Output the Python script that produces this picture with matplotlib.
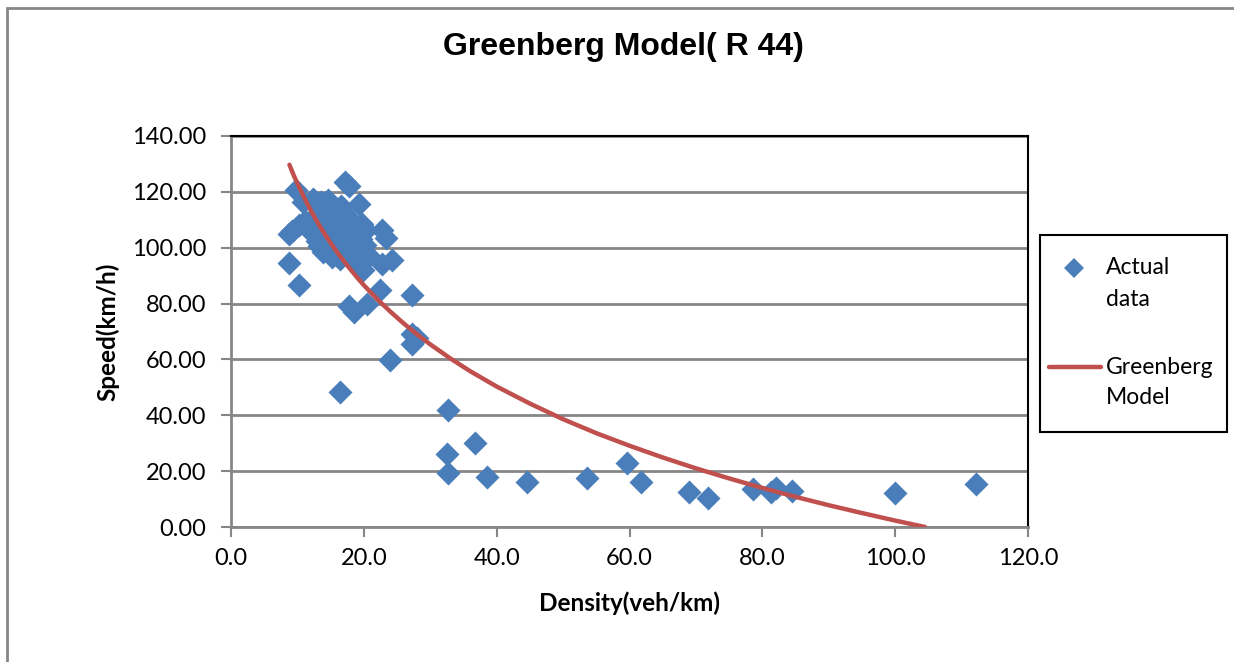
import numpy as np
import matplotlib.pyplot as plt
from matplotlib.patches import Rectangle
from matplotlib.lines import Line2D

# observed traffic data, section R 44
density = [8.7, 9.2, 8.7, 10.2, 9.8, 10.8, 12.3, 13.5, 14.6, 15.5, 16.6, 13.0, 14.0, 15.0,
           16.0, 17.0, 17.8, 11.2, 10.3, 11.8, 12.8, 13.8, 15.0, 16.0, 17.0, 18.0, 19.0,
           19.7, 20.3, 14.5, 15.5, 16.5, 17.5, 18.5, 19.5, 20.2, 13.2, 13.8, 12.9, 15.2,
           16.4, 17.6, 18.8, 19.3, 20.4, 20.8, 19.8, 18.6, 17.2, 17.8, 19.3, 22.8, 23.3,
           22.7, 24.2, 22.4, 20.5, 17.8, 18.5, 27.3, 27.3, 28.0, 27.2, 24.0, 16.4, 32.6,
           32.5, 32.7, 36.7, 38.5, 44.5, 53.6, 59.6, 61.7, 69.0, 71.8, 78.6, 81.3, 82.0,
           84.5, 100.0, 112.2]
speed = [105.0, 106.0, 94.5, 86.5, 120.5, 116.5, 117.5, 116.5, 117.0, 114.5, 115.0, 112.0,
         110.0, 109.5, 111.0, 112.5, 110.5, 109.5, 108.0, 106.5, 105.0, 104.0, 105.5, 104.5,
         106.0, 104.0, 106.0, 108.5, 106.5, 101.0, 100.0, 102.0, 100.5, 101.5, 103.0, 101.0,
         100.5, 98.5, 102.5, 96.5, 95.8, 98.0, 97.0, 95.0, 98.2, 97.2, 92.0, 94.5, 123.5,
         122.0, 115.5, 106.5, 103.5, 94.0, 95.7, 85.0, 80.0, 79.0, 77.0, 83.0, 69.0, 67.5,
         65.5, 59.7, 48.5, 42.0, 26.3, 19.5, 30.0, 17.8, 16.2, 17.7, 23.0, 16.2, 12.5, 10.5,
         13.5, 12.5, 14.0, 13.0, 12.2, 15.3]

# fitted Greenberg curve
model_density = [8.8, 9, 9.5, 10, 11, 12, 13, 14, 15, 16, 17, 18, 19, 20, 22, 24, 26, 28,
                 30, 33, 36, 40, 45, 50, 55, 60, 65, 70, 75, 80, 85, 90, 95, 100, 104.5]
model_speed = [129.7, 128.5, 125.6, 123.0, 118.0, 113.4, 109.2, 105.3, 101.7, 98.3, 95.2,
               92.2, 89.3, 86.6, 81.6, 77.1, 72.9, 69.0, 65.4, 60.4, 55.8, 50.3, 44.2, 38.6,
               33.6, 29.1, 24.9, 21.0, 17.4, 14.0, 10.8, 7.8, 5.0, 2.3, 0.0]

blue = '#4a7ebb'
red = '#c0504d'
grey = '#868686'

fig = plt.figure(figsize=(12.34, 6.62), dpi=100)
ax = fig.add_axes([231/1234, 1-527/662, 797/1234, 391/662])

ax.scatter(density, speed, marker='D', s=150, color=blue, linewidths=0, zorder=3)
ax.plot(model_density, model_speed, color=red, lw=3.2, solid_capstyle='round', zorder=4)

ax.set_xlim(0, 120)
ax.set_ylim(0, 140)
ax.set_xticks(np.arange(0, 121, 20))
ax.set_yticks(np.arange(0, 141, 20))
ax.set_xticklabels(['%.1f' % v for v in np.arange(0, 121, 20)])
ax.set_yticklabels(['%.2f' % v for v in np.arange(0, 141, 20)])
ax.yaxis.grid(True, color=grey, lw=2)
ax.set_axisbelow(True)

for s in ['top', 'right']:
    ax.spines[s].set_color('black')
    ax.spines[s].set_linewidth(1.5)
for s in ['left', 'bottom']:
    ax.spines[s].set_color(grey)
    ax.spines[s].set_linewidth(2)
ax.tick_params(axis='both', color=grey, width=1.5, length=7, labelsize=17,
               labelcolor='black')
ax.tick_params(axis='x', pad=8)
ax.tick_params(axis='y', pad=11)
for t in ax.get_xticklabels() + ax.get_yticklabels():
    t.set_family('Lato')

ax.set_xlabel('Density(veh/km)', fontsize=17.5, fontweight='bold', family='Lato', labelpad=16)
ax.set_ylabel('Speed(km/h)', fontsize=17.5, fontweight='bold', family='Lato', labelpad=9)

fig.text(623/1234, 1-47/662, 'Greenberg Model( R 44)', ha='center', va='center',
         fontsize=23, fontweight='bold', family='Liberation Sans')

# legend box drawn in figure pixels
def fx(px):
    return px / 1234

def fy(py):
    return 1 - py / 662

fig.patches.append(Rectangle((fx(1040), fy(432)), fx(187), 197/662, transform=fig.transFigure,
                             fill=False, edgecolor='black', lw=1.5))
fig.lines.append(Line2D([fx(1074)], [fy(268)], marker='D', markersize=10, color=blue,
                        markeredgewidth=0, transform=fig.transFigure))
fig.lines.append(Line2D([fx(1049), fx(1101)], [fy(367), fy(367)], color=red, lw=3.2,
                        solid_capstyle='round', transform=fig.transFigure))
for txt, py in [('Actual', 268), ('data', 300), ('Greenberg', 368), ('Model', 398)]:
    fig.text(fx(1106), fy(py), txt, ha='left', va='center', fontsize=16.5, family='Lato')

# chart area border
fig.patches.append(Rectangle((fx(7), -0.1), 1.2, 1-8/662+0.1, transform=fig.transFigure,
                             fill=False, edgecolor=grey, lw=2))

fig.savefig('out.png', dpi=100)
